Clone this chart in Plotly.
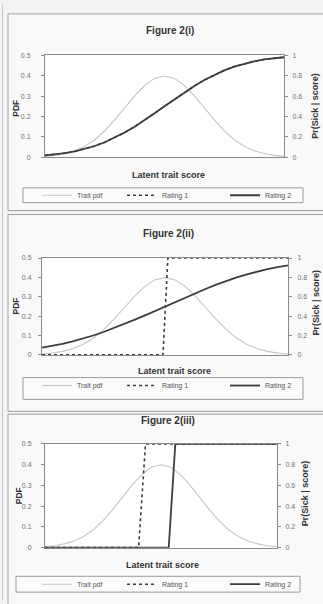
import plotly.graph_objects as go

W, H = 323, 604

# ---------------- data ----------------
x_score = [-3.0, -2.75, -2.5, -2.25, -2.0, -1.75, -1.5, -1.25, -1.0, -0.75, -0.5, -0.25,
           0.0, 0.25, 0.5, 0.75, 1.0, 1.25, 1.5, 1.75, 2.0, 2.25, 2.5, 2.75, 3.0]
trait_pdf = [0.004, 0.009, 0.018, 0.032, 0.054, 0.086, 0.130, 0.183, 0.242, 0.301, 0.352, 0.387,
             0.399, 0.387, 0.352, 0.301, 0.242, 0.183, 0.130, 0.086, 0.054, 0.032, 0.018, 0.009, 0.004]
# Figure 2(i): both ratings identical
fig1_rating1 = [0.018, 0.027, 0.040, 0.058, 0.081, 0.110, 0.147, 0.191, 0.242, 0.300, 0.363, 0.431,
                0.500, 0.569, 0.637, 0.700, 0.758, 0.809, 0.853, 0.890, 0.919, 0.942, 0.960, 0.973, 0.982]
fig1_rating2 = [0.018, 0.027, 0.040, 0.058, 0.081, 0.110, 0.147, 0.191, 0.242, 0.300, 0.363, 0.431,
                0.500, 0.569, 0.637, 0.700, 0.758, 0.809, 0.853, 0.890, 0.919, 0.942, 0.960, 0.973, 0.982]
# Figure 2(ii)
fig2_rating1_x = [-3.0, -0.05, 0.07, 3.0]
fig2_rating1_y = [0, 0, 1, 1]
fig2_rating2 = [0.075, 0.093, 0.114, 0.139, 0.168, 0.200, 0.236, 0.275, 0.317, 0.361, 0.406, 0.453,
                0.500, 0.547, 0.594, 0.639, 0.683, 0.725, 0.764, 0.800, 0.832, 0.861, 0.886, 0.907, 0.925]
# Figure 2(iii)
fig3_rating1_x = [-3.0, -0.58, -0.40, 3.0]
fig3_rating1_y = [0, 0, 1, 1]
fig3_rating2_x = [-3.0, 0.20, 0.37, 3.0]
fig3_rating2_y = [0, 0, 1, 1]

titles = ["Figure 2(i)", "Figure 2(ii)", "Figure 2(iii)"]
series_names = ["Trait pdf", "Rating 1", "Rating 2"]
pdf_ticks = [0, 0.1, 0.2, 0.3, 0.4, 0.5]
pr_ticks = [0, 0.2, 0.4, 0.6, 0.8, 1]

# ---------------- layout helpers ----------------
def px(x):
    return x / W

def py(y):
    return 1 - y / H

FONT = "Liberation Sans, Arial, sans-serif"
panels = [
    dict(plot=(45, 284, 52, 155), title=(170, 27), pdf=(16, 106), pr=(315, 103), xt=(168, 173),
         box=(23, 303, 186, 201), leg=(37, 193.5), w=(40, 58, 40), sl=9, sr=3),
    dict(plot=(42, 288, 257, 355), title=(168, 232), pdf=(16, 306), pr=(315, 302), xt=(174, 371),
         box=(23, 303, 378, 400), leg=(37, 386), w=(40, 58, 40), sl=5, sr=4),
    dict(plot=(45, 277, 445, 550), title=(168, 421), pdf=(19, 498), pr=(305, 495), xt=(162, 568),
         box=(16, 300, 579, 595), leg=(37, 587), w=(40, 58, 40), sl=8, sr=3),
]
frames = [(8, 345, 10, 209), (8, 345, 213, 412), (8, 345, 415, 640)]

fig = go.Figure()

PDF_COL = "#c6c6c6"
DARK = "#3c3c3c"

traces_data = [
    (x_score, fig1_rating1, x_score, fig1_rating2),
    (fig2_rating1_x, fig2_rating1_y, x_score, fig2_rating2),
    (fig3_rating1_x, fig3_rating1_y, fig3_rating2_x, fig3_rating2_y),
]

layout = {}
shapes = []
annotations = []
for i, p in enumerate(panels):
    n = "" if i == 0 else str(i + 1)
    yid_l = "" if i == 0 else str(2 * i + 1)
    yid_r = str(2 * i + 2)
    leg = "legend" if i == 0 else f"legend{i+1}"
    r1x, r1y, r2x, r2y = traces_data[i]
    fig.add_trace(go.Scatter(x=x_score, y=trait_pdf, mode="lines", name=series_names[0],
                             line=dict(color=PDF_COL, width=1.1),
                             xaxis=f"x{n}", yaxis=f"y{yid_l}", legend=leg, legendwidth=p["w"][0]))
    fig.add_trace(go.Scatter(x=r1x, y=r1y, mode="lines", name=series_names[1],
                             line=dict(color=DARK, width=1.6, dash="dot"),
                             xaxis=f"x{n}", yaxis=f"y{yid_r}", legend=leg, legendwidth=p["w"][1]))
    fig.add_trace(go.Scatter(x=r2x, y=r2y, mode="lines", name=series_names[2],
                             line=dict(color=DARK, width=1.8),
                             xaxis=f"x{n}", yaxis=f"y{yid_r}", legend=leg, legendwidth=p["w"][2]))

    x0, x1, y0, y1 = p["plot"]
    layout[f"xaxis{n}"] = dict(domain=[px(x0), px(x1)], range=[-3, 3], showticklabels=False,
                               showgrid=False, zeroline=False, showline=True, mirror=True,
                               linecolor="#8a8a8a", linewidth=1, ticks="",
                               anchor=f"y{yid_l}")
    layout[f"yaxis{yid_l}"] = dict(domain=[py(y1), py(y0)], range=[0, 0.5], tickvals=pdf_ticks,
                                   showgrid=False, zeroline=False, showline=True,
                                   linecolor="#8a8a8a", linewidth=1, ticks="outside", ticklen=3,
                                   tickcolor="#8a8a8a", ticklabelstandoff=p["sl"],
                                   tickfont=dict(size=7, color="#707070", family=FONT),
                                   anchor=f"x{n}")
    layout[f"yaxis{yid_r}"] = dict(range=[0, 1], tickvals=pr_ticks, overlaying=f"y{yid_l}",
                                   side="right", showgrid=False, zeroline=False, showline=True,
                                   linecolor="#8a8a8a", linewidth=1, ticks="outside", ticklen=3,
                                   tickcolor="#8a8a8a", ticklabelstandoff=p["sr"],
                                   tickfont=dict(size=7, color="#707070", family=FONT),
                                   anchor=f"x{n}")
    lx, lyc = p["leg"]
    layout[leg] = dict(orientation="h", x=px(lx), y=py(lyc), xanchor="left", yanchor="middle",
                       bgcolor="rgba(0,0,0,0)", borderwidth=0, font=dict(size=7, color="#555", family=FONT),
                       itemwidth=30, tracegroupgap=0)
    fx0, fx1, fy0, fy1 = frames[i]
    shapes.append(dict(type="rect", xref="paper", yref="paper", x0=px(fx0), x1=px(fx1),
                       y0=py(fy1), y1=py(fy0), line=dict(color="#a0a0a0", width=1),
                       fillcolor="#f9f9f9", layer="below"))
    bx0, bx1, by0, by1 = p["box"]
    shapes.append(dict(type="rect", xref="paper", yref="paper", x0=px(bx0), x1=px(bx1),
                       y0=py(by1), y1=py(by0), line=dict(color="#9a9a9a", width=1),
                       fillcolor="#fbfbfb", layer="below"))
    shapes.append(dict(type="rect", xref="paper", yref="paper", x0=px(x0), x1=px(x1),
                       y0=py(y1), y1=py(y0), line=dict(width=0), fillcolor="#ffffff", layer="below"))

    def ann(text, xy, size, angle=0):
        annotations.append(dict(text=text, x=px(xy[0]), y=py(xy[1]), xref="paper", yref="paper",
                                xanchor="center", yanchor="middle", showarrow=False,
                                textangle=angle, font=dict(size=size, color="#333", family=FONT)))
    ann(f"<b>{titles[i]}</b>", p["title"], 10)
    ann("<b>PDF</b>", p["pdf"], 8.5, -90)
    ann("<b>Pr(Sick | score)</b>", p["pr"], 9, -90)
    ann("<b>Latent trait score</b>", p["xt"], 9)

shapes.append(dict(type="line", xref="paper", yref="paper", x0=px(2.5), x1=px(2.5), y0=0, y1=1,
                   line=dict(color="#c8c8c8", width=1)))

fig.update_layout(**layout)
fig.update_layout(width=W, height=H, margin=dict(l=0, r=0, t=0, b=0), autosize=False,
                  paper_bgcolor="#f3f3f3", plot_bgcolor="rgba(0,0,0,0)", shapes=shapes,
                  annotations=annotations, showlegend=True, font=dict(family=FONT))

fig.write_html("out.html", config={"displayModeBar": False},
               post_script="document.body.style.margin='0';document.body.style.overflow='hidden';")
